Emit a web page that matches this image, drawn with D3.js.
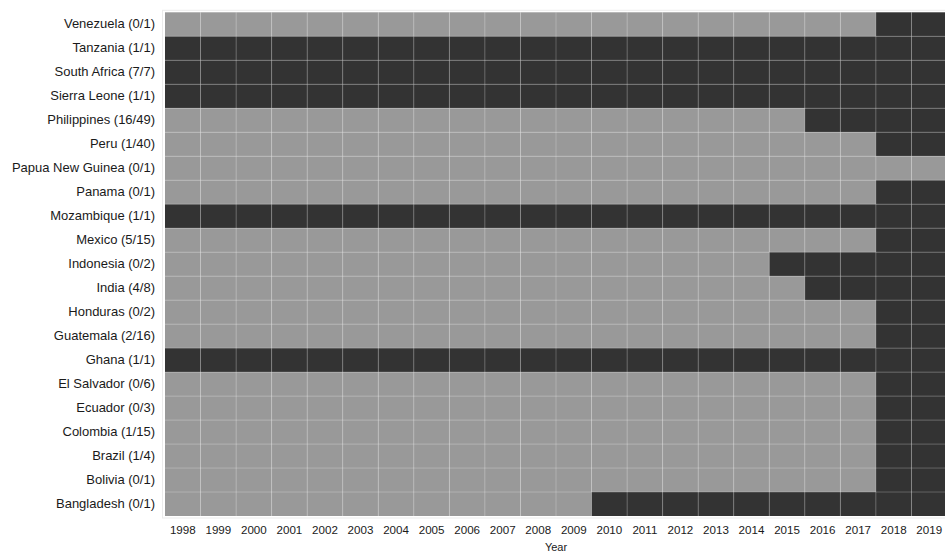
<!DOCTYPE html>
<html>
<head>
<meta charset="utf-8">
<script src="https://cdn.jsdelivr.net/npm/d3@7"></script>
<style>
  body { margin: 0; background: #fff; overflow: hidden; }
  text { font-family: "Liberation Sans", Arial, Helvetica, sans-serif; fill: #1a1a1a; }
</style>
</head>
<body>
<div id="chart"></div>
<script>
// countries, top to bottom as drawn
var countries = [
  'Venezuela (0/1)', 'Tanzania (1/1)', 'South Africa (7/7)', 'Sierra Leone (1/1)',
  'Philippines (16/49)', 'Peru (1/40)', 'Papua New Guinea (0/1)', 'Panama (0/1)',
  'Mozambique (1/1)', 'Mexico (5/15)', 'Indonesia (0/2)', 'India (4/8)',
  'Honduras (0/2)', 'Guatemala (2/16)', 'Ghana (1/1)', 'El Salvador (0/6)',
  'Ecuador (0/3)', 'Colombia (1/15)', 'Brazil (1/4)', 'Bolivia (0/1)', 'Bangladesh (0/1)'
]
// first year the cell turns dark (null = never)
var darkFrom = [
  2018, 1998, 1998, 1998,
  2016, 2018, null, 2018,
  1998, 2018, 2015, 2016,
  2018, 2018, 1998, 2018,
  2018, 2018, 2018, 2018, 2010
]
var years = ['1998','1999','2000','2001','2002','2003','2004','2005','2006','2007','2008',
             '2009','2010','2011','2012','2013','2014','2015','2016','2017','2018','2019']

var cells = []
countries.forEach(function(c, i) {
  years.forEach(function(y) {
    cells.push({country: c, year: y, on: darkFrom[i] != null && +y >= darkFrom[i]})
  })
})

var width = 945, height = 552
var m = {left: 165, right: -2, top: 12.3, bottom: 36}

var svg = d3.select('#chart').append('svg')
  .attr('width', width)
  .attr('height', height)

var x = d3.scaleBand().domain(years).range([m.left, width - m.right])
var y = d3.scaleBand().domain(countries).range([m.top, height - m.bottom])

// panel outline
svg.append('rect')
  .attr('x', m.left - 2.5)
  .attr('y', m.top - 2)
  .attr('width', width - m.right - m.left + 5)
  .attr('height', height - m.bottom - m.top + 4)
  .style('fill', '#fff')
  .style('stroke', '#ebebeb')
  .style('stroke-width', 1)

svg.selectAll('.cell')
  .data(cells)
  .enter()
  .append('rect')
  .attr('class', 'cell')
  .attr('x', function(d) { return x(d.year) })
  .attr('y', function(d) { return y(d.country) })
  .attr('width', x.bandwidth())
  .attr('height', y.bandwidth())
  .style('fill', function(d) { return d.on ? '#333333' : '#999999' })

// light grid lines on cell edges
var g = svg.append('g')
g.selectAll('.vl')
  .data(years.slice(1))
  .enter()
  .append('line')
  .attr('x1', function(d) { return x(d) })
  .attr('x2', function(d) { return x(d) })
  .attr('y1', m.top)
  .attr('y2', height - m.bottom)
  .style('stroke', '#fff')
  .style('stroke-opacity', 0.22)
  .style('stroke-width', 1)
g.selectAll('.hl')
  .data(countries.slice(1))
  .enter()
  .append('line')
  .attr('x1', m.left)
  .attr('x2', width - m.right)
  .attr('y1', function(d) { return y(d) })
  .attr('y2', function(d) { return y(d) })
  .style('stroke', '#fff')
  .style('stroke-opacity', 0.22)
  .style('stroke-width', 1)

// axes
var yAxis = svg.append('g')
  .attr('transform', 'translate(' + (m.left - 3) + ',0)')
  .call(d3.axisLeft(y).tickSize(0).tickPadding(7))
yAxis.select('.domain').remove()
yAxis.selectAll('text')
  .style('font-size', '13px')
  .style('font-family', '"Liberation Sans", Arial, sans-serif')
  .style('fill', '#1a1a1a')

var xAxis = svg.append('g')
  .attr('transform', 'translate(0,' + (height - m.bottom + 2) + ')')
  .call(d3.axisBottom(x).tickSize(0).tickPadding(8))
xAxis.select('.domain').remove()
xAxis.selectAll('text')
  .style('font-size', '11.6px')
  .style('font-family', '"Liberation Sans", Arial, sans-serif')
  .style('fill', '#1a1a1a')

svg.append('text')
  .attr('x', (m.left + width - m.right) / 2)
  .attr('y', 550.5)
  .style('text-anchor', 'middle')
  .style('font-size', '11px')
  .text('Year')
</script>
</body>
</html>
